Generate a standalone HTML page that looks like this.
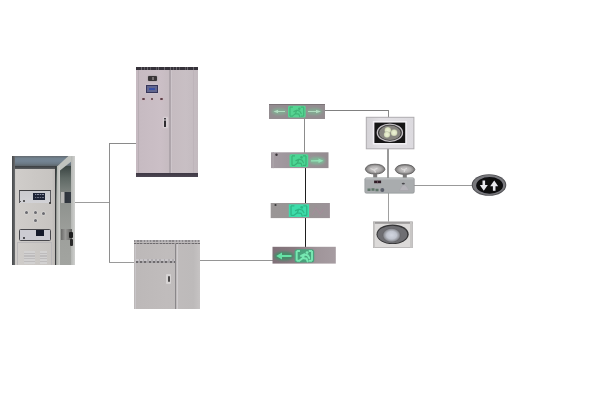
<!DOCTYPE html>
<html><head><meta charset="utf-8">
<style>
html,body{margin:0;padding:0;background:#fff;}
body{width:600px;height:400px;position:relative;overflow:hidden;font-family:"Liberation Sans",sans-serif;}
.a{position:absolute;box-sizing:border-box;}
</style></head><body>
<svg width="0" height="0" style="position:absolute"><defs><filter id="soft" x="0" y="0" width="100%" height="100%"><feGaussianBlur stdDeviation="0.8"/></filter></defs></svg>
<div id="wrap" style="position:absolute;left:0;top:0;width:600px;height:400px">

<!-- connector lines -->
<div class="a" style="left:75px;top:202px;width:35px;height:1px;background:#9c9c9c"></div>
<div class="a" style="left:109px;top:143px;width:1.2px;height:119.5px;background:#8e8e8e"></div>
<div class="a" style="left:109px;top:143px;width:28px;height:1px;background:#8a8a8a"></div>
<div class="a" style="left:109px;top:261.5px;width:25px;height:1px;background:#9a9a9a"></div>
<div class="a" style="left:200px;top:260px;width:73px;height:1px;background:#959595"></div>
<div class="a" style="left:325px;top:110px;width:64px;height:1px;background:#808080"></div>
<div class="a" style="left:387.5px;top:110px;width:1.5px;height:7.5px;background:#8a8a8a"></div>
<div class="a" style="left:387.3px;top:148px;width:1.5px;height:30px;background:#999"></div>
<div class="a" style="left:387.5px;top:193px;width:1.5px;height:29px;background:#a0a0a0"></div>
<div class="a" style="left:413px;top:185px;width:59px;height:1px;background:#999"></div>
<div class="a" style="left:303.5px;top:119px;width:1.5px;height:34px;background:#8c8c8c"></div>
<div class="a" style="left:304.6px;top:168px;width:1.3px;height:35px;background:#1e1e1e"></div>
<div class="a" style="left:304.5px;top:218px;width:1.3px;height:29px;background:#1e1e1e"></div>

<div style="position:absolute;left:0;top:0;width:600px;height:400px">
<!-- left cabinet -->
<div class="a" style="left:12px;top:156px;width:63px;height:109px;background:#c9c8c6"></div>
<div class="a" style="left:13px;top:166px;width:42px;height:99px;background:linear-gradient(90deg,#c2bfbc,#d0cdca 8%,#cbc8c5 50%,#c7c4c1 92%,#bdbab7)"></div>
<div class="a" style="left:12px;top:155.5px;width:60px;height:10.5px;background:linear-gradient(180deg,#646a70,#72828f 25%,#748494 50%,#6c7a86 75%,#5e666c)"></div>
<div class="a" style="left:12px;top:165.8px;width:44px;height:3px;background:linear-gradient(180deg,#3a3e42,#5a5c5e)"></div>
<div class="a" style="left:11.5px;top:156px;width:3px;height:108.5px;background:linear-gradient(90deg,#46484a,#6a6c6e)"></div>
<div class="a" style="left:55.2px;top:166px;width:1.5px;height:99px;background:#3a3c3e"></div>
<!-- side -->
<div class="a" style="left:56px;top:166px;width:19px;height:99px;background:linear-gradient(180deg,#3a4442,#5e6864 12%,#8e928e 35%,#9ea09c 70%,#a2a4a0)"></div>
<div class="a" style="left:56px;top:155.5px;width:19px;height:16px;background:#bfc2be;clip-path:polygon(13px 0,19px 0,19px 3px,4px 15px,1px 15px,1px 11px)"></div>
<div class="a" style="left:56.7px;top:166px;width:3.8px;height:99px;background:linear-gradient(90deg,#b4b6b2,#cfd0cd)"></div>
<div class="a" style="left:71px;top:155.5px;width:4px;height:109.5px;background:linear-gradient(90deg,#b4b6b3,#cfd0ce)"></div>
<div class="a" style="left:61px;top:192px;width:10px;height:11px;background:linear-gradient(90deg,#b8b8b6 25%,#2e343c 45%,#343a42)"></div>
<div class="a" style="left:61px;top:228.5px;width:10.5px;height:11.5px;background:linear-gradient(90deg,#6a6a68,#9a9a98 40%,#5a5a58)"></div>
<div class="a" style="left:69px;top:232px;width:3.5px;height:6px;background:#1e1e1e;border-radius:1px"></div><div class="a" style="left:69.5px;top:239px;width:3px;height:7px;background:#2a2a2a;border-radius:1px"></div>
<!-- panels -->
<div class="a" style="left:18.8px;top:190px;width:32px;height:13px;background:linear-gradient(180deg,#cacacf,#d2d2d6);border:1px solid #5a5a5e;border-top:1.5px solid #3e3e42;border-bottom:none"></div><div class="a" style="left:19.5px;top:200.5px;width:1.6px;height:1.6px;background:#333;border-radius:50%"></div><div class="a" style="left:23.3px;top:200px;width:1.6px;height:1.6px;background:#444;border-radius:50%"></div><div class="a" style="left:49.3px;top:202px;width:1.6px;height:1.6px;background:#333;border-radius:50%"></div>
<div class="a" style="left:32.8px;top:192.6px;width:12.3px;height:7.7px;background:#1e2436"></div><div class="a" style="left:34.5px;top:194.3px;width:9px;height:1px;background:repeating-linear-gradient(90deg,#8a8ea2 0 1.5px,#3a4054 1.5px 2.5px)"></div><div class="a" style="left:34.5px;top:197.3px;width:9px;height:1px;background:repeating-linear-gradient(90deg,#6a6e82 0 1.5px,#2e3448 1.5px 2.5px)"></div>
<div class="a" style="left:25.4px;top:210.8px;width:3px;height:3px;background:#6a6a70;border-radius:50%;box-shadow:0 0 1px 0.5px #e0dfdd"></div>
<div class="a" style="left:33.5px;top:210.8px;width:3px;height:3px;background:#6a6a70;border-radius:50%;box-shadow:0 0 1px 0.5px #e0dfdd"></div>
<div class="a" style="left:42.1px;top:211.6px;width:3px;height:3px;background:#6a6a70;border-radius:50%;box-shadow:0 0 1px 0.5px #e0dfdd"></div>
<div class="a" style="left:33.5px;top:219.4px;width:3px;height:3px;background:#6a6a70;border-radius:50%;box-shadow:0 0 1px 0.5px #e0dfdd"></div>
<div class="a" style="left:19.2px;top:228.7px;width:31.6px;height:12.2px;background:#cccbd2;border:1.2px solid #48484c;border-radius:1.5px"></div><div class="a" style="left:22.8px;top:236.8px;width:1.8px;height:1.8px;background:#2a2a2e;border-radius:50%"></div>
<div class="a" style="left:36px;top:229.7px;width:8px;height:6.6px;background:#161a2a"></div>
<div class="a" style="left:17px;top:241.5px;width:35px;height:23px;border:1px solid #bab8ba;border-bottom:none"></div><div class="a" style="left:24px;top:250.5px;width:11px;height:13.5px;background:repeating-linear-gradient(180deg,#d2d1d1 0 1.5px,#bebcbd 1.5px 2.8px)"></div><div class="a" style="left:40px;top:250.5px;width:7px;height:13.5px;background:repeating-linear-gradient(180deg,#d2d1d1 0 1.5px,#bebcbd 1.5px 2.8px)"></div>

</div>
<!-- tall cabinet -->
<div class="a" style="left:136px;top:67px;width:62.3px;height:110px;background:linear-gradient(90deg,#c6bac1,#cbbfc6 40%,#c5bbc0 55%,#c8bfc4 80%,#c3babf)"></div>
<div class="a" style="left:136px;top:67px;width:62.3px;height:3.3px;background:repeating-linear-gradient(90deg,#36323a 0 2.5px,#5a565c 2.5px 3.2px,#36323a 3.2px 5px,#6a666c 5px 5.8px)"></div>
<div class="a" style="left:136px;top:173px;width:62px;height:4px;background:linear-gradient(180deg,#3e3844,#4c4652)"></div>
<div class="a" style="left:137.5px;top:70px;width:1px;height:103px;background:#b8aeb4"></div>
<div class="a" style="left:169.3px;top:70px;width:1.5px;height:103px;background:#aea5ab"></div>
<div class="a" style="left:170.8px;top:70px;width:1px;height:103px;background:#cdc5ca"></div>
<div class="a" style="left:193px;top:70px;width:1px;height:103px;background:#beb4ba"></div>
<div class="a" style="left:148.4px;top:75.6px;width:8.4px;height:5.6px;background:#3a3638;border-radius:1px;box-shadow:0 0 1.5px #888"></div>
<div class="a" style="left:152px;top:77px;width:2px;height:2.5px;background:#767072"></div>
<div class="a" style="left:146.4px;top:85.2px;width:11.6px;height:8px;background:#62668e;border:1.5px solid #36365a;box-shadow:0 0 2px #d8d0e0"></div>
<div class="a" style="left:149.4px;top:88.2px;width:6px;height:1.6px;background:#3850a8"></div>
<div class="a" style="left:142px;top:97.6px;width:2.6px;height:2px;background:#5a3e46;border-radius:50%;box-shadow:0 0 1.5px #dca8b4"></div>
<div class="a" style="left:150.8px;top:97.6px;width:2.6px;height:2px;background:#5a3e46;border-radius:50%;box-shadow:0 0 1.5px #dca8b4"></div>
<div class="a" style="left:160.4px;top:98px;width:2.6px;height:2px;background:#5a3e46;border-radius:50%;box-shadow:0 0 1.5px #dca8b4"></div>
<div class="a" style="left:162.5px;top:117px;width:5px;height:10.5px;background:#d6ced2;border-radius:1.5px;box-shadow:0 0 1.5px #ddd5d9"></div>
<div class="a" style="left:163.6px;top:118.2px;width:2.8px;height:8.6px;background:#2e2c30;border-radius:0.5px"></div>
<div class="a" style="left:164.2px;top:119px;width:1.4px;height:2px;background:#8a868a"></div>

<!-- lower cabinet -->
<div class="a" style="left:134px;top:240px;width:66px;height:69px;background:linear-gradient(90deg,#bcb8b8,#c0bcbc 50%,#bdbaba 90%,#c6c3c3)"></div>
<div class="a" style="left:134px;top:239.7px;width:66px;height:2.5px;background:repeating-linear-gradient(90deg,#8c898c 0 1.5px,#b0adb0 1.5px 3.2px)"></div>
<div class="a" style="left:134px;top:242.7px;width:66px;height:1.4px;background:repeating-linear-gradient(90deg,#6e6b6e 0 2px,#9a979a 2px 3.2px)"></div>
<div class="a" style="left:175.3px;top:244px;width:1px;height:65px;background:#8a878a"></div>
<div class="a" style="left:176.5px;top:244px;width:1px;height:65px;background:#cfcccf"></div>
<div class="a" style="left:135px;top:244px;width:1px;height:65px;background:#c8c5c8"></div>
<div class="a" style="left:135.5px;top:258.6px;width:39px;height:2px;background:repeating-linear-gradient(90deg,#c8c5c8 0 2.5px,#b0adb0 2.5px 4.2px)"></div><div class="a" style="left:135.5px;top:260.6px;width:39px;height:2.4px;background:repeating-linear-gradient(90deg,#6e6b6e 0 2px,#a8a5a8 2px 4.2px)"></div>
<div class="a" style="left:166.3px;top:273.5px;width:5px;height:10px;background:#d6d3d3;border-radius:1px"></div><div class="a" style="left:167.5px;top:275.5px;width:2.6px;height:6.5px;background:#4a4848;border-radius:1px"></div>

<!-- exit signs -->
<svg class="a" style="left:0;top:0" width="600" height="400" viewBox="0 0 600 400">
<defs>
<filter id="bl" x="-10%" y="-30%" width="120%" height="160%"><feGaussianBlur stdDeviation="0.5"/></filter>
<filter id="bl2" x="-30%" y="-60%" width="160%" height="220%"><feGaussianBlur stdDeviation="1"/></filter>
<filter id="bl3" x="-30%" y="-60%" width="160%" height="220%"><feGaussianBlur stdDeviation="0.5"/></filter>
<linearGradient id="s2" x1="0" x2="1"><stop offset="0" stop-color="#a59ca3"/><stop offset="0.3" stop-color="#9e969c"/><stop offset="1" stop-color="#948c90"/></linearGradient>
<linearGradient id="s3" x1="0" x2="1"><stop offset="0" stop-color="#9a9696"/><stop offset="0.6" stop-color="#989494"/><stop offset="1" stop-color="#9c9298"/></linearGradient>
<linearGradient id="s4" x1="0" x2="1"><stop offset="0" stop-color="#807078"/><stop offset="0.35" stop-color="#887a80"/><stop offset="0.7" stop-color="#a0959a"/><stop offset="1" stop-color="#a69ca1"/></linearGradient>
</defs>
<g filter="url(#bl)">
<!-- sign1 -->
<rect x="269" y="104" width="56" height="15" fill="#938c90"/>
<rect x="269" y="104" width="56" height="1" fill="#7a7276"/>
<ellipse cx="279.5" cy="111.5" rx="8" ry="3.5" fill="#84a892" filter="url(#bl2)"/>
<ellipse cx="314.5" cy="111.5" rx="8" ry="3.5" fill="#84a892" filter="url(#bl2)"/>
<rect x="288" y="105.7" width="17.7" height="11.9" rx="1.5" fill="#56d492"/>
<g transform="translate(288,105.7) scale(0.9833333333333333,0.9916666666666667)" opacity="0.55">
<path d="M2 1.5 L2 10.5 M16 1.5 L16 10.5 M2 1.5 L5 1.5 M13 1.5 L16 1.5 M2 10.5 L5 10.5 M13 10.5 L16 10.5" stroke="#2f9a62" stroke-width="1.2" fill="none"/>
<circle cx="11.5" cy="3" r="1.3" fill="#2f9a62"/>
<path d="M6 6 L9 4.5 L12 5.5 L13.5 8 M9 4.5 L7.5 8 L5 10 M7.5 8 L11 8.5 L12 11" stroke="#2f9a62" stroke-width="1.2" fill="none" stroke-linecap="round"/>
</g>
<g><path d="M273.5 111.5 L278.1 109.7 L278.1 110.9 L285 110.98571428571428 L285 112.01428571428572 L278.1 112.1 L278.1 113.3 Z" fill="#b0dcc0"/><path d="M321 111.5 L316 109.7 L316 110.9 L308 110.98571428571428 L308 112.01428571428572 L316 112.1 L316 113.3 Z" fill="#b0dcc0"/></g>
<!-- sign2 -->
<rect x="271" y="152.3" width="57.5" height="15.8" fill="url(#s2)"/>
<rect x="272.5" y="152.3" width="1.5" height="15.8" fill="#aaa3a8"/>
<circle cx="276.5" cy="154.8" r="1.2" fill="#3a3438"/>
<ellipse cx="317" cy="160.8" rx="8" ry="3.8" fill="#7fb596" filter="url(#bl2)"/>
<rect x="289.5" y="154.3" width="18.8" height="12.7" rx="1.5" fill="#4cd694"/>
<g transform="translate(290,154.3) scale(1.0,1.0583333333333333)" opacity="0.55">
<path d="M2 1.5 L2 10.5 M16 1.5 L16 10.5 M2 1.5 L5 1.5 M13 1.5 L16 1.5 M2 10.5 L5 10.5 M13 10.5 L16 10.5" stroke="#2a9460" stroke-width="1.2" fill="none"/>
<circle cx="11.5" cy="3" r="1.3" fill="#2a9460"/>
<path d="M6 6 L9 4.5 L12 5.5 L13.5 8 M9 4.5 L7.5 8 L5 10 M7.5 8 L11 8.5 L12 11" stroke="#2a9460" stroke-width="1.2" fill="none" stroke-linecap="round"/>
</g>
<g><path d="M323.5 160.8 L318.5 158.60000000000002 L318.5 160.0666666666667 L311 160.17142857142858 L311 161.42857142857144 L318.5 161.53333333333333 L318.5 163.0 Z" fill="#92e2b6"/></g>
<!-- sign3 -->
<rect x="270.7" y="203" width="59.2" height="15.1" fill="url(#s3)"/>
<circle cx="275.5" cy="205" r="1.1" fill="#3a3a3a"/>
<rect x="288.8" y="204.3" width="20.2" height="12.7" fill="#3edcaa"/>
<g transform="translate(288.8,204.3) scale(1.1222222222222222,1.0583333333333333)" opacity="0.55">
<path d="M2 1.5 L2 10.5 M16 1.5 L16 10.5 M2 1.5 L5 1.5 M13 1.5 L16 1.5 M2 10.5 L5 10.5 M13 10.5 L16 10.5" stroke="#1f9a6c" stroke-width="1.2" fill="none"/>
<circle cx="11.5" cy="3" r="1.3" fill="#1f9a6c"/>
<path d="M6 6 L9 4.5 L12 5.5 L13.5 8 M9 4.5 L7.5 8 L5 10 M7.5 8 L11 8.5 L12 11" stroke="#1f9a6c" stroke-width="1.2" fill="none" stroke-linecap="round"/>
</g>
<path d="M312 215 L316 208 L320 214 L324 209" stroke="#a88a9c" stroke-width="1.2" fill="none" opacity="0.6"/>
<!-- sign4 -->
<rect x="272.5" y="246.8" width="63.3" height="16.8" fill="url(#s4)"/>
<ellipse cx="284" cy="256" rx="10" ry="4.5" fill="#4a8a6a" filter="url(#bl2)"/>
<rect x="294.5" y="249.3" width="19.7" height="13.2" rx="2.5" fill="#4aa27c"/>
<g transform="translate(294.5,249.3) scale(1.0944444444444443,1.0999999999999999)" opacity="0.9">
<path d="M2 1.5 L2 10.5 M16 1.5 L16 10.5 M2 1.5 L5 1.5 M13 1.5 L16 1.5 M2 10.5 L5 10.5 M13 10.5 L16 10.5" stroke="#7cf0b8" stroke-width="1.8" fill="none"/>
<circle cx="11.5" cy="3" r="1.3" fill="#7cf0b8"/>
<path d="M6 6 L9 4.5 L12 5.5 L13.5 8 M9 4.5 L7.5 8 L5 10 M7.5 8 L11 8.5 L12 11" stroke="#7cf0b8" stroke-width="1.8" fill="none" stroke-linecap="round"/>
</g>
<path d="M276.2 256 L282 252.6 L282 255 L291.5 255 L291.5 257 L282 257 L282 259.4 Z" fill="#66e2a6"/>
</g>
</svg>

<!-- lamps -->
<svg class="a" style="left:0;top:0" width="600" height="400" viewBox="0 0 600 400">
<defs>
<filter id="lb" x="-20%" y="-20%" width="140%" height="140%"><feGaussianBlur stdDeviation="0.5"/></filter>
<linearGradient id="fr1" x1="0" x2="1" y1="0" y2="0"><stop offset="0" stop-color="#d4d2d6"/><stop offset="0.3" stop-color="#e2e0e4"/><stop offset="1" stop-color="#dcdadf"/></linearGradient>
<radialGradient id="led" cx="0.5" cy="0.5" r="0.5"><stop offset="0" stop-color="#eef2d8"/><stop offset="0.7" stop-color="#dde4c2"/><stop offset="1" stop-color="#b4b8a0"/></radialGradient>
<radialGradient id="hd" cx="0.5" cy="0.5" r="0.5"><stop offset="0" stop-color="#d0cece"/><stop offset="0.6" stop-color="#b0aeae"/><stop offset="1" stop-color="#7a7878"/></radialGradient>
<radialGradient id="l3" cx="0.5" cy="0.5" r="0.5"><stop offset="0" stop-color="#d2d6e0"/><stop offset="0.55" stop-color="#c0c4ce"/><stop offset="0.85" stop-color="#909298"/><stop offset="1" stop-color="#626266"/></radialGradient>
</defs>
<g filter="url(#lb)">
<!-- lamp1 -->
<rect x="366.3" y="117.3" width="47.6" height="31.5" fill="url(#fr1)" stroke="#aeacb0" stroke-width="1"/>
<rect x="372.8" y="121" width="34" height="23.5" fill="#f2f0f4"/>
<rect x="374.4" y="122.6" width="30.8" height="20.4" fill="#141216"/>
<ellipse cx="389.9" cy="132.7" rx="12.6" ry="8.6" fill="#3a3a3a" stroke="#c4c0c4" stroke-width="1.3"/>
<ellipse cx="389.9" cy="132.8" rx="10.8" ry="7.2" fill="#86847f"/>
<circle cx="387.8" cy="130.2" r="3.3" fill="url(#led)"/>
<circle cx="394.1" cy="132.7" r="3.4" fill="url(#led)"/>
<circle cx="387" cy="134.6" r="3.2" fill="url(#led)"/>
<!-- emergency light -->
<path d="M365.3 169.2 Q366.5 164.2 375 164.2 Q383.5 164.2 385 169.2 Q383.5 174 375 174 Q366.5 174 365.3 169.2 Z" fill="url(#hd)" stroke="#5e5c5c" stroke-width="0.9"/>
<path d="M370.5 168.5 L374 170 L377.5 168 M374.5 170 L375.5 172.5" stroke="#dcdada" stroke-width="1.2" fill="none"/>
<path d="M395.2 169.5 Q396.5 164.6 405 164.6 Q413.5 164.6 414.8 169.5 Q413.5 174.4 405 174.4 Q396.5 174.4 395.2 169.5 Z" fill="url(#hd)" stroke="#5e5c5c" stroke-width="0.9"/>
<path d="M401 168.5 L404 170 L407 168 M405 170 L404 172" stroke="#e0dede" stroke-width="1" fill="none"/>
<rect x="373.2" y="173.5" width="4" height="4" fill="#7a7878"/>
<rect x="402.8" y="173.8" width="4" height="4" fill="#7a7878"/>
<rect x="364.8" y="177.8" width="49.5" height="15.4" rx="1.5" fill="#a9acae" stroke="#8e9294" stroke-width="0.6"/>
<rect x="365.5" y="178.3" width="48" height="1" fill="#c0c4c6"/>
<rect x="374.1" y="180.6" width="7" height="2.6" fill="#2e1e26"/><rect x="377.3" y="180.6" width="0.6" height="2.6" fill="#8a6a78"/>
<path d="M367.5 189.8 h3 M371.5 189.5 h3 M375.5 190 h3" stroke="#5e7468" stroke-width="2.6"/>
<circle cx="382.3" cy="190" r="2" fill="#5a5e6a"/>
<path d="M399.5 190.5 Q404 179 409 190.5 Z" fill="#b6b4ba" stroke="#a4a2a8" stroke-width="0.5"/><ellipse cx="403.3" cy="183.6" rx="1.6" ry="0.9" fill="#4a484e"/>
<!-- lamp3 -->
<rect x="373.4" y="221.8" width="39.1" height="25.8" fill="#dcdad9" stroke="#b0aeae" stroke-width="0.8"/>
<rect x="373.4" y="222" width="39.1" height="1.8" fill="#9c9a9a"/>
<rect x="373.4" y="221.8" width="1.5" height="25.8" fill="#c4c2c1"/>
<rect x="410" y="221.8" width="2.5" height="25.8" fill="#c8c6c5"/>
<ellipse cx="392.6" cy="234.3" rx="16.1" ry="9.8" fill="#343436"/>
<ellipse cx="392.4" cy="234.5" rx="14.9" ry="8.8" fill="#6e6e72"/>
<ellipse cx="391.6" cy="235.2" rx="9" ry="7" fill="url(#l3)"/>
</g>
<!-- up/down sign -->
<g filter="url(#lb)">
<ellipse cx="489" cy="185" rx="17.3" ry="10.8" fill="#505054"/>
<ellipse cx="489" cy="185" rx="16.3" ry="10" fill="#78787c"/>
<ellipse cx="489.6" cy="185.4" rx="13.4" ry="8.3" fill="#0a0a10"/>
<path d="M483.8 180.5 L483.8 186.5" stroke="#e8e8ec" stroke-width="2.6"/>
<path d="M479.8 185 L487.8 185 L483.8 190.8 Z" fill="#e8e8ec"/>
<path d="M494.2 190.8 L494.2 184.8" stroke="#e8e8ec" stroke-width="2.6"/>
<path d="M490.2 186.3 L498.2 186.3 L494.2 180.5 Z" fill="#e8e8ec"/>
</g>
</svg>

</div>
</body></html>
